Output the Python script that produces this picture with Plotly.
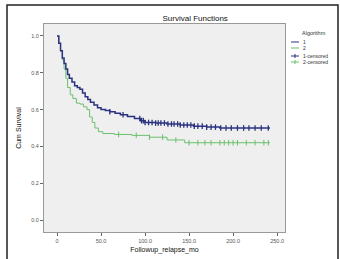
import plotly.graph_objects as go

# ---- data ----
x_tick_vals = [0, 50, 100, 150, 200, 250]
x_tick_text = ["0", "50.0", "100.0", "150.0", "200.0", "250.0"]
y_tick_vals = [0.0, 0.2, 0.4, 0.6, 0.8, 1.0]
y_tick_text = ["0.0", "0.2", "0.4", "0.6", "0.8", "1.0"]

g1_time = [0, 2, 4, 6, 8, 10, 12, 14, 17, 20, 23, 26, 29, 32, 35, 38, 42, 46, 50, 55,
           60, 66, 72, 80, 88, 95, 100, 112, 125, 140, 155, 170, 185, 242]
g1_surv = [1.0, 0.96, 0.92, 0.88, 0.85, 0.82, 0.79, 0.77, 0.75, 0.73, 0.72, 0.71, 0.69, 0.67,
           0.655, 0.64, 0.625, 0.61, 0.60, 0.595, 0.588, 0.58, 0.572, 0.562, 0.552, 0.54,
           0.53, 0.527, 0.522, 0.516, 0.51, 0.505, 0.50, 0.50]
g2_time = [0, 2, 4, 6, 8, 10, 12, 15, 18, 22, 26, 30, 34, 37, 40, 43, 47, 52, 65, 85,
           105, 125, 145, 242]
g2_surv = [1.0, 0.96, 0.92, 0.87, 0.82, 0.77, 0.72, 0.68, 0.66, 0.635, 0.63, 0.615, 0.60,
           0.56, 0.53, 0.50, 0.48, 0.47, 0.465, 0.46, 0.45, 0.435, 0.42, 0.42]

g1_censor = [60, 75, 94, 96, 98, 100, 104, 108, 112, 115, 118, 122, 126, 130, 133, 137, 140,
             144, 148, 152, 156, 160, 165, 170, 175, 180, 186, 192, 198, 205, 212, 218, 225,
             232, 240]
g2_censor = [70, 90, 105, 120, 135, 150, 160, 168, 175, 185, 190, 195, 200, 205, 215, 225,
             235, 240]

legend_title = "Algorithm"
legend_labels = ["1", "2", "1-censored", "2-censored"]

BLUE = "#2b3380"
GREEN = "#6cc06c"


def step_value(times, surv, t):
    v = surv[0]
    for ti, si in zip(times, surv):
        if ti <= t:
            v = si
        else:
            break
    return v


fig = go.Figure()
fig.add_trace(go.Scatter(x=g2_time, y=g2_surv, mode="lines", line=dict(color=GREEN, width=1, shape="hv"),
                         showlegend=False))
fig.add_trace(go.Scatter(x=g1_time, y=g1_surv, mode="lines", line=dict(color=BLUE, width=1.5, shape="hv"),
                         showlegend=False))
fig.add_trace(go.Scatter(x=g2_censor, y=[step_value(g2_time, g2_surv, t) for t in g2_censor],
                         mode="markers", marker=dict(symbol="line-ns-open", size=4, color=GREEN,
                                                     line=dict(width=1, color=GREEN)),
                         showlegend=False))
fig.add_trace(go.Scatter(x=g1_censor, y=[step_value(g1_time, g1_surv, t) for t in g1_censor],
                         mode="markers", marker=dict(symbol="line-ns-open", size=4, color=BLUE,
                                                     line=dict(width=1.3, color=BLUE)),
                         showlegend=False))


def px2paper(px, py):
    return (px - 44) / 241, (232 - py) / 208


shapes = []
annotations = []
# outer frame
shapes.append(dict(type="rect", xref="paper", yref="paper",
                   x0=px2paper(7, 0)[0], x1=px2paper(338, 0)[0],
                   y0=px2paper(0, 262)[1], y1=px2paper(0, 5)[1],
                   line=dict(color="#222222", width=1.5), fillcolor="rgba(0,0,0,0)", layer="below"))

# manual legend
lx, ly = px2paper(314, 33)
annotations.append(dict(x=lx, y=ly, xref="paper", yref="paper", text=legend_title, showarrow=False,
                        font=dict(size=5.5, color="#333333"), xanchor="center", yanchor="middle"))
leg_colors = [BLUE, GREEN, BLUE, GREEN]
leg_y = [42, 48, 56, 62]
for lab, col, py in zip(legend_labels, leg_colors, leg_y):
    x0, y0 = px2paper(291, py)
    x1, _ = px2paper(299, py)
    shapes.append(dict(type="line", xref="paper", yref="paper", x0=x0, x1=x1, y0=y0, y1=y0,
                       line=dict(color=col, width=1)))
    if "censored" in lab:
        xm, _ = px2paper(295, py)
        shapes.append(dict(type="line", xref="paper", yref="paper", x0=xm, x1=xm,
                           y0=px2paper(0, py + 2)[1], y1=px2paper(0, py - 2)[1],
                           line=dict(color=col, width=1)))
    tx, _ = px2paper(301, py)
    annotations.append(dict(x=tx, y=y0, xref="paper", yref="paper", text=lab, showarrow=False,
                            font=dict(size=5, color="#333333"), xanchor="left", yanchor="middle"))

fig.update_layout(
    width=340, height=259,
    margin=dict(l=44, r=55, t=24, b=27),
    paper_bgcolor="white",
    plot_bgcolor="#efefef",
    font=dict(family="Liberation Sans, Arial, sans-serif", color="#333333", size=6),
    title=dict(text="Survival Functions", x=0.574, xanchor="center", y=1 - 18 / 259, yanchor="middle",
               font=dict(size=8, color="#111111")),
    showlegend=False,
    shapes=shapes,
    annotations=annotations,
    xaxis=dict(range=[-14.8, 259], tickvals=x_tick_vals, ticktext=x_tick_text, showgrid=False,
               zeroline=False, ticks="outside", ticklen=3, tickcolor="#666666", automargin=False,
               showline=True, linecolor="#999999", linewidth=1, mirror=True,
               tickfont=dict(size=5.5, color="#555555"),
               title=dict(text="Followup_relapse_mo", font=dict(size=7, color="#111111"), standoff=4)),
    yaxis=dict(range=[-0.065, 1.065], tickvals=y_tick_vals, ticktext=y_tick_text, showgrid=False,
               zeroline=False, ticks="outside", ticklen=3, tickcolor="#666666", automargin=False,
               showline=True, linecolor="#999999", linewidth=1, mirror=True,
               tickfont=dict(size=5.5, color="#555555"),
               title=dict(text="Cum Survival", font=dict(size=7, color="#111111"), standoff=8)),
)

fig.write_html("out.html", config={"displayModeBar": False},
               post_script="document.body.style.margin='0';")
